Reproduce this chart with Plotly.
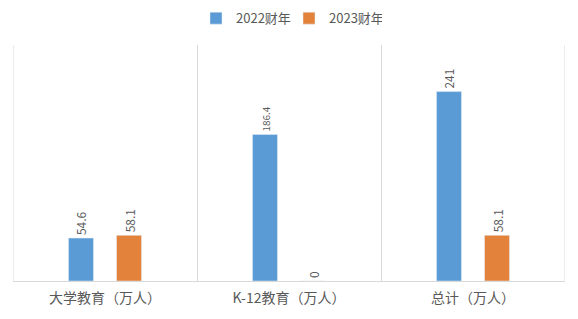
import plotly.graph_objects as go

categories = ["大学教育（万人）", "K-12教育（万人）", "总计（万人）"]
series_names = ["2022财年", "2023财年"]
values_2022 = [54.6, 186.4, 241]
values_2023 = [58.1, 0, 58.1]
label_2022 = ["54.6", "186.4", "241"]
label_2023 = ["58.1", "0", "58.1"]
colors = ["#5B9BD5", "#E3823B"]

font_family = "Noto Sans CJK SC, Noto Sans, sans-serif"
gray = "#595959"

fig = go.Figure()
for name, vals, labels, col in [
    (series_names[0], values_2022, label_2022, colors[0]),
    (series_names[1], values_2023, label_2023, colors[1]),
]:
    fig.add_trace(go.Bar(
        x=categories, y=vals, name=name, marker_color=col,
        text=labels, textposition="outside", textangle=-90,
        textfont=dict(size=12, color=gray, family=font_family),
        cliponaxis=False,
    ))

fig.update_layout(
    width=578, height=319,
    margin=dict(l=13, r=13, t=42, b=37),
    paper_bgcolor="white", plot_bgcolor="white",
    barmode="group", bargap=0.478, bargroupgap=0.48,
    font=dict(family=font_family, color=gray, size=12),
    legend=dict(orientation="h", x=0.5, xanchor="center", y=0.99, yanchor="top",
                yref="container", font=dict(size=13, color=gray), itemwidth=30,
                entrywidth=48, entrywidthmode="pixels",
                traceorder="normal"),
    showlegend=True,
)
fig.update_xaxes(
    tickson="boundaries", showgrid=True, gridcolor="#D9D9D9", gridwidth=1,
    showline=True, linecolor="#D9D9D9", linewidth=1, mirror=False,
    ticks="", tickfont=dict(size=14, color=gray, family=font_family),
    ticklabelstandoff=4,
    range=[-0.5, 2.5],
)
fig.update_yaxes(range=[0, 300], showgrid=False, showticklabels=False, zeroline=False, showline=False)

# vertical border lines at the plot edges
for xv in [-0.5, 2.5]:
    fig.add_shape(type="line", xref="x", yref="paper", x0=xv, x1=xv, y0=0, y1=1,
                  line=dict(color="#D9D9D9", width=1))

fig.write_html("out.html")
